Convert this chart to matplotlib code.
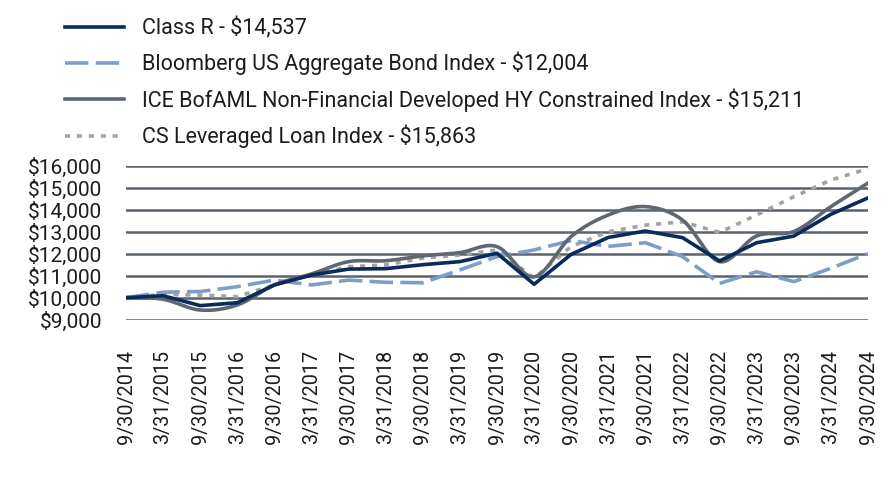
import numpy as np
import matplotlib
matplotlib.use("Agg")
import matplotlib.pyplot as plt

plt.rcParams['font.family'] = ['Roboto', 'DejaVu Sans']

dates = ["9/30/2014", "3/31/2015", "9/30/2015", "3/31/2016", "9/30/2016",
         "3/31/2017", "9/30/2017", "3/31/2018", "9/30/2018", "3/31/2019",
         "9/30/2019", "3/31/2020", "9/30/2020", "3/31/2021", "9/30/2021",
         "3/31/2022", "9/30/2022", "3/31/2023", "9/30/2023", "3/31/2024",
         "9/30/2024"]

class_r = [10000, 10090, 9640, 9770, 10580, 11030, 11300, 11320, 11500, 11640,
           12020, 10610, 11970, 12740, 13030, 12730, 11670, 12500, 12800, 13790,
           14537]
bloomberg = [10000, 10250, 10280, 10500, 10800, 10580, 10800, 10700, 10680, 11260,
             11870, 12170, 12600, 12330, 12500, 11870, 10650, 11180, 10730, 11340,
             12004]
ice = [10000, 9930, 9440, 9670, 10580, 11080, 11640, 11680, 11900, 12050,
       12320, 10950, 12780, 13760, 14140, 13530, 11640, 12810, 13010, 14140,
       15211]
cs_loan = [10000, 10150, 10120, 10050, 10580, 11030, 11410, 11490, 11800, 11940,
           12170, 10890, 12330, 13000, 13300, 13450, 12970, 13760, 14590, 15350,
           15863]

labels = ["Class R - $14,537",
          "Bloomberg US Aggregate Bond Index - $12,004",
          "ICE BofAML Non-Financial Developed HY Constrained Index - $15,211",
          "CS Leveraged Loan Index - $15,863"]

yticks = [9000, 10000, 11000, 12000, 13000, 14000, 15000, 16000]
ytick_labels = ["$9,000", "$10,000", "$11,000", "$12,000", "$13,000",
                "$14,000", "$15,000", "$16,000"]


def smooth(x, y, n=20):
    """Catmull-Rom rendering of a series (drawing style only)."""
    x = np.asarray(x, float)
    y = np.asarray(y, float)
    px = np.concatenate([[2 * x[0] - x[1]], x, [2 * x[-1] - x[-2]]])
    py = np.concatenate([[2 * y[0] - y[1]], y, [2 * y[-1] - y[-2]]])
    xs, ys = [], []
    t = np.linspace(0, 1, n, endpoint=False)
    for i in range(1, len(px) - 2):
        for arr, out in ((px, xs), (py, ys)):
            p0, p1, p2, p3 = arr[i - 1], arr[i], arr[i + 1], arr[i + 2]
            out.extend(0.5 * ((2 * p1) + (-p0 + p2) * t +
                              (2 * p0 - 5 * p1 + 4 * p2 - p3) * t ** 2 +
                              (-p0 + 3 * p1 - 3 * p2 + p3) * t ** 3))
    xs.append(x[-1])
    ys.append(y[-1])
    return np.array(xs), np.array(ys)


fig = plt.figure(figsize=(8.88, 4.80), dpi=100)
ax = fig.add_axes([126 / 888, 1 - 319.7 / 480, (868 - 126) / 888, 154 / 480])

x = np.arange(len(dates))
text_color = "#1c1c1c"
lw = 2.6

l_cs, = ax.plot(x, cs_loan, color="#a3a3a3", lw=lw, dashes=(1.4, 1.9),
                dash_capstyle="butt", label=labels[3], zorder=3)
sx, sy = smooth(x, ice)
l_ice, = ax.plot(sx, sy, color="#5f6870", lw=lw, label=labels[2], zorder=4)
l_bb, = ax.plot(x, bloomberg, color="#7f9dc9", lw=lw, dashes=(6.5, 2.0),
                dash_capstyle="butt", label=labels[1], zorder=3)
l_r, = ax.plot(x, class_r, color="#0a2a5a", lw=lw, label=labels[0], zorder=5)

ax.set_xlim(0, len(dates) - 1)
ax.set_ylim(9000, 16000)
ax.set_yticks(yticks)
ax.set_yticklabels(ytick_labels)
ax.set_xticks(x)
ax.set_xticklabels(dates, rotation=90)
ax.grid(axis="y", color="#58636d", lw=1.8)
ax.set_axisbelow(True)
for s in ax.spines.values():
    s.set_visible(False)
ax.tick_params(axis="y", length=0, pad=17, labelsize=15, labelcolor=text_color)
ax.tick_params(axis="x", length=0, pad=22, labelsize=14.2, labelcolor=text_color)

fig.legend(handles=[l_r, l_bb, l_ice, l_cs], labels=labels,
           loc="upper left", bbox_to_anchor=(65 / 888, 1 - 17 / 480),
           frameon=False, fontsize=15.5, handlelength=2.75, handletextpad=0.85,
           labelspacing=0.6, borderpad=0, borderaxespad=0,
           labelcolor=text_color)

fig.savefig("out.png", dpi=100)
